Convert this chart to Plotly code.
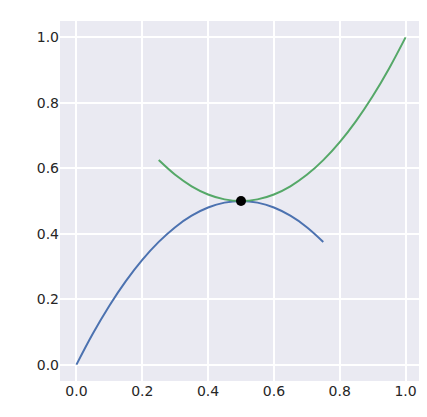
import plotly.graph_objects as go

# values
blue_x = [0.0, 0.05, 0.1, 0.15, 0.2, 0.25, 0.3, 0.35, 0.4, 0.45, 0.5, 0.55, 0.6, 0.65, 0.7, 0.75]
blue_y = [0.0, 0.095, 0.18, 0.255, 0.32, 0.375, 0.42, 0.455, 0.48, 0.495, 0.5, 0.495, 0.48, 0.455, 0.42, 0.375]
green_x = [0.25, 0.3, 0.35, 0.4, 0.45, 0.5, 0.55, 0.6, 0.65, 0.7, 0.75, 0.8, 0.85, 0.9, 0.95, 1.0]
green_y = [0.625, 0.58, 0.545, 0.52, 0.505, 0.5, 0.505, 0.52, 0.545, 0.58, 0.625, 0.68, 0.745, 0.82, 0.905, 1.0]
point_x = [0.5]
point_y = [0.5]
ticks = [0.0, 0.2, 0.4, 0.6, 0.8, 1.0]

fig = go.Figure()
fig.add_trace(go.Scatter(x=blue_x, y=blue_y, mode="lines", line=dict(color="#4C72B0", width=2, shape="spline")))
fig.add_trace(go.Scatter(x=green_x, y=green_y, mode="lines", line=dict(color="#55A868", width=2, shape="spline")))
fig.add_trace(go.Scatter(x=point_x, y=point_y, mode="markers", marker=dict(color="black", size=10)))

axis = dict(range=[-0.05, 1.05], tickvals=ticks, tickformat=".1f", showgrid=True,
            gridcolor="white", gridwidth=1.5, zeroline=False, showline=False,
            ticks="", ticklen=0, automargin=False)
fig.update_layout(
    width=427, height=417,
    paper_bgcolor="white", plot_bgcolor="#EAEAF2",
    margin=dict(l=52, r=13, t=13, b=44),
    showlegend=False,
    font=dict(family="DejaVu Sans", size=14, color="#262626"),
    xaxis=axis, yaxis=axis,
)
fig.write_html("out.html")
